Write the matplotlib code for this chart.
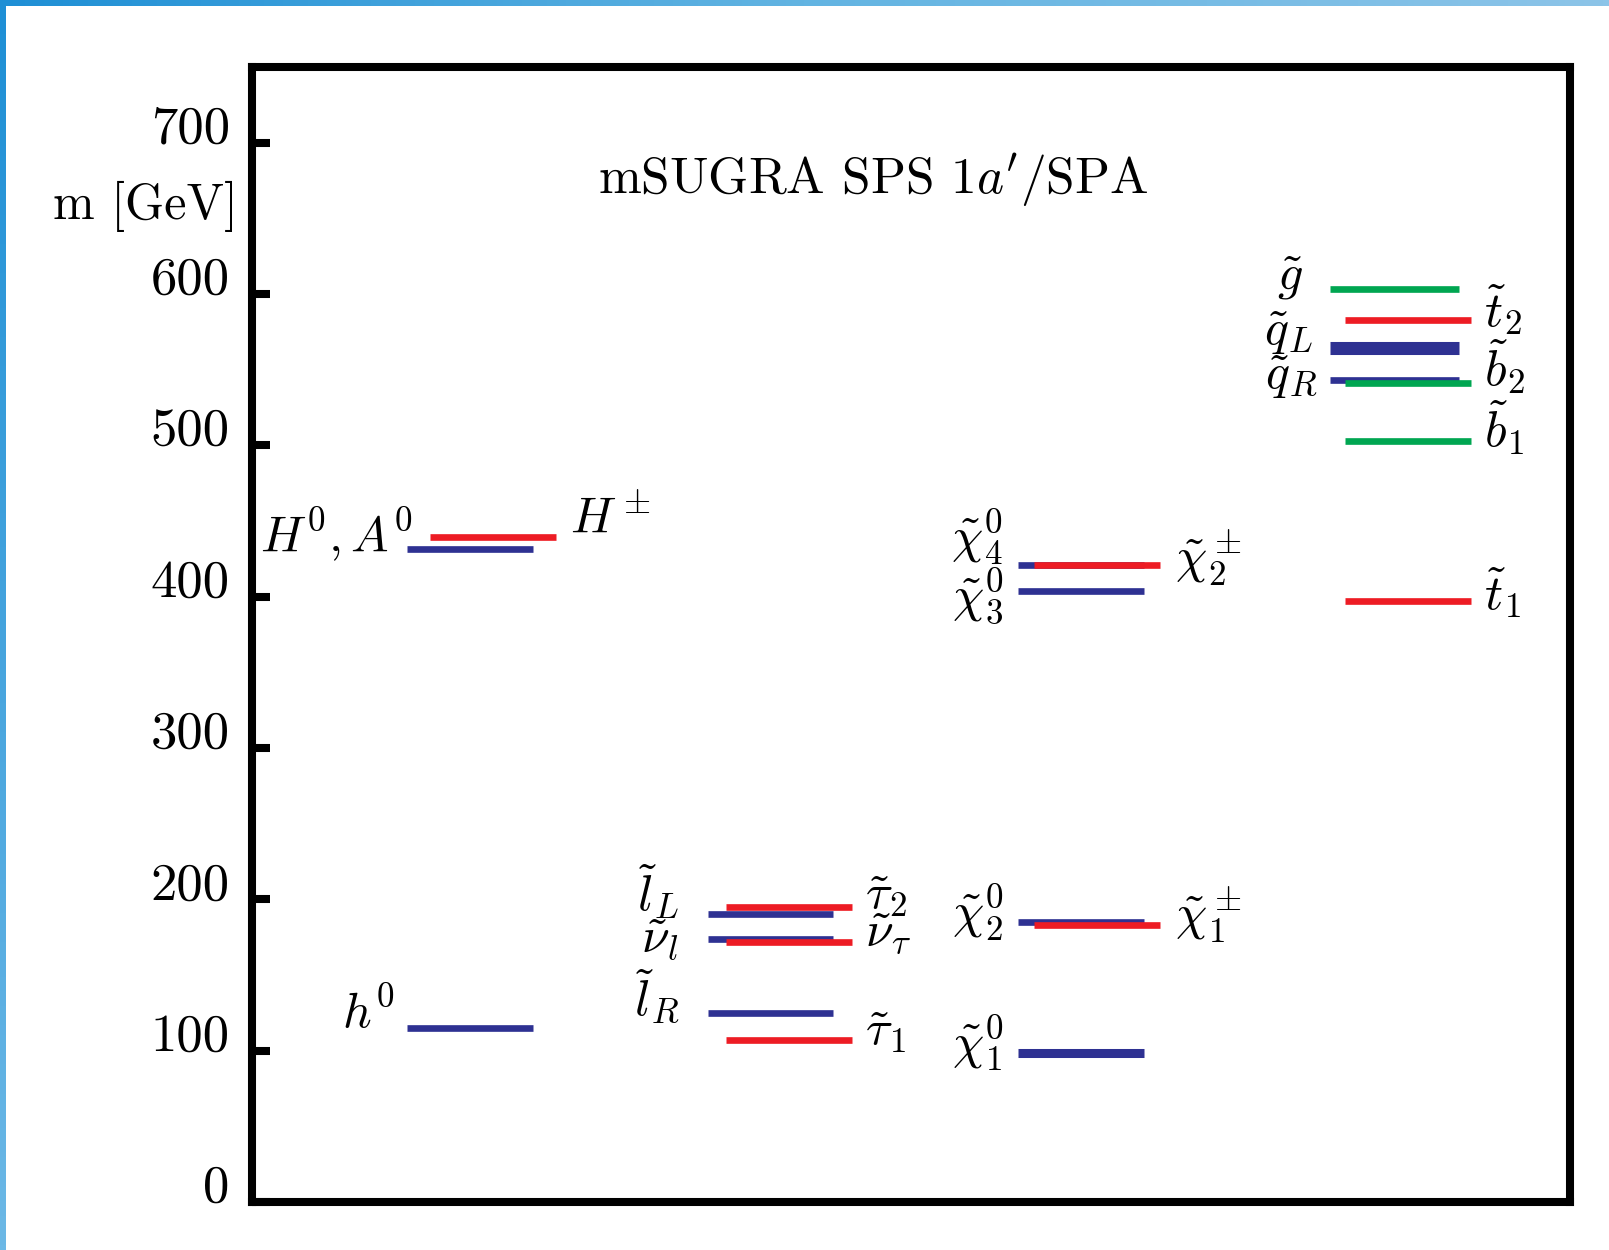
import numpy as np
import matplotlib
matplotlib.use('Agg')
import matplotlib.pyplot as plt
from matplotlib.colors import LinearSegmentedColormap

plt.rcParams['font.family'] = 'serif'
plt.rcParams['font.serif'] = ['cmr10']
plt.rcParams['mathtext.fontset'] = 'cm'
plt.rcParams['axes.unicode_minus'] = False

# masses [GeV]
higgs_names = [r'$h^0$', r'$H^0, A^0$', r'$H^\pm$']
higgs_mass = [115.3, 431.5, 439.6]

slepton_names = [r'$\tilde{l}_L$', r'$\tilde{\nu}_l$', r'$\tilde{l}_R$',
                 r'$\tilde{\tau}_2$', r'$\tilde{\nu}_\tau$', r'$\tilde{\tau}_1$']
slepton_mass = [190.6, 173.7, 124.8, 194.7, 171.6, 107.2]

gaugino_names = [r'$\tilde{\chi}^0_4$', r'$\tilde{\chi}^0_3$', r'$\tilde{\chi}^0_2$',
                 r'$\tilde{\chi}^0_1$', r'$\tilde{\chi}^\pm_2$', r'$\tilde{\chi}^\pm_1$']
gaugino_mass = [420.6, 404.0, 185.2, 98.4, 420.6, 183.2]

squark_names = [r'$\tilde{g}$', r'$\tilde{q}_L$', r'$\tilde{q}_R$',
                r'$\tilde{t}_2$', r'$\tilde{b}_2$', r'$\tilde{b}_1$', r'$\tilde{t}_1$']
squark_mass = [603.0, 564.5, 543.4, 582.8, 541.4, 502.7, 396.9]

mass_ticks = [0, 100, 200, 300, 400, 500, 600, 700]

# ---- styles / layout -------------------------------------------------------
BLUE = '#2e3192'
RED = '#ed1c24'
GREEN = '#00a651'

# segment x-extent (axes fraction) for the left and right sub-column
columns = [
    {'L': (0.1176, 0.2132), 'R': (0.135, 0.2307)},
    {'L': (0.346, 0.441), 'R': (0.360, 0.455)},
    {'L': (0.581, 0.677), 'R': (0.593, 0.689)},
    {'L': (0.818, 0.916), 'R': (0.829, 0.925)},
]

# per group: side, colour, linewidth, label x, label y
groups = [
    (higgs_names, higgs_mass, 0,
     ['L', 'L', 'R'], [BLUE, BLUE, RED], [4.8, 4.8, 4.8],
     [0.1085, 0.1218, 0.241], [124.8, 441, 451]),
    (slepton_names, slepton_mass, 1,
     ['L', 'L', 'L', 'R', 'R', 'R'], [BLUE, BLUE, BLUE, RED, RED, RED], [4.8] * 6,
     [0.324, 0.324, 0.324, 0.465, 0.465, 0.465], [205, 173, 136, 202, 177, 112.6]),
    (gaugino_names, gaugino_mass, 2,
     ['L', 'L', 'L', 'L', 'R', 'R'], [BLUE, BLUE, BLUE, BLUE, RED, RED],
     [4.8, 4.8, 4.8, 6.5, 4.8, 4.8],
     [0.570, 0.570, 0.570, 0.570, 0.700, 0.700], [439, 400.5, 191.3, 105, 426, 190]),
    (squark_names, squark_mass, 3,
     ['L', 'L', 'L', 'R', 'R', 'R', 'R'], [GREEN, BLUE, BLUE, RED, GREEN, GREEN, RED],
     [4.8, 9.4, 4.8, 4.8, 4.8, 4.8, 4.8],
     [0.7976, 0.805, 0.809, 0.935, 0.935, 0.935, 0.935],
     [610.6, 574, 545, 590, 552, 512, 403]),
]

fig = plt.figure(figsize=(16.09, 12.5), dpi=100)
ax = fig.add_axes([252 / 1609, 1 - 1202 / 1250, 1318 / 1609, 1135 / 1250])

for names, masses, col, sides, colors, lws, lx, ly in groups:
    for name, m, side, c, lw, tx, ty in zip(names, masses, sides, colors, lws, lx, ly):
        x0, x1 = columns[col][side]
        ax.plot([x0, x1], [m, m], color=c, lw=lw, solid_capstyle='butt')
        ha = 'right' if side == 'L' else 'left'
        ax.text(tx, ty, name, ha=ha, va='center', fontsize=36)

ax.set_xlim(0, 1)
ax.set_ylim(0, 750)
ax.set_xticks([])
ax.set_yticks(mass_ticks)
ax.set_yticklabels([str(t) for t in mass_ticks], fontsize=38, va='baseline')
ax.tick_params(axis='y', direction='in', length=13, width=5.8, pad=16)
for sp in ax.spines.values():
    sp.set_linewidth(5.8)

ax.text(-0.0106, 0.877, 'm [GeV]', transform=ax.transAxes, ha='right',
        va='center', fontsize=36)
ax.text(0.471, 0.888, "mSUGRA SPS 1$a'$/SPA", transform=ax.transAxes,
        ha='center', va='baseline', fontsize=37)

# blue frame strips at the top and left edge
top_cmap = LinearSegmentedColormap.from_list('top', ['#1e8fd5', '#62b4e2', '#8cc4e8'])
left_cmap = LinearSegmentedColormap.from_list('left', ['#1e8fd5', '#6cb8e6'])
ax_top = fig.add_axes([0, 1 - 6 / 1250, 1, 6 / 1250])
ax_top.imshow(np.linspace(0, 1, 256)[None, :], cmap=top_cmap, aspect='auto')
ax_top.axis('off')
ax_left = fig.add_axes([0, 0, 6 / 1609, 1])
ax_left.imshow(np.linspace(0, 1, 256)[:, None], cmap=left_cmap, aspect='auto')
ax_left.axis('off')

fig.savefig('out.png', dpi=100)
